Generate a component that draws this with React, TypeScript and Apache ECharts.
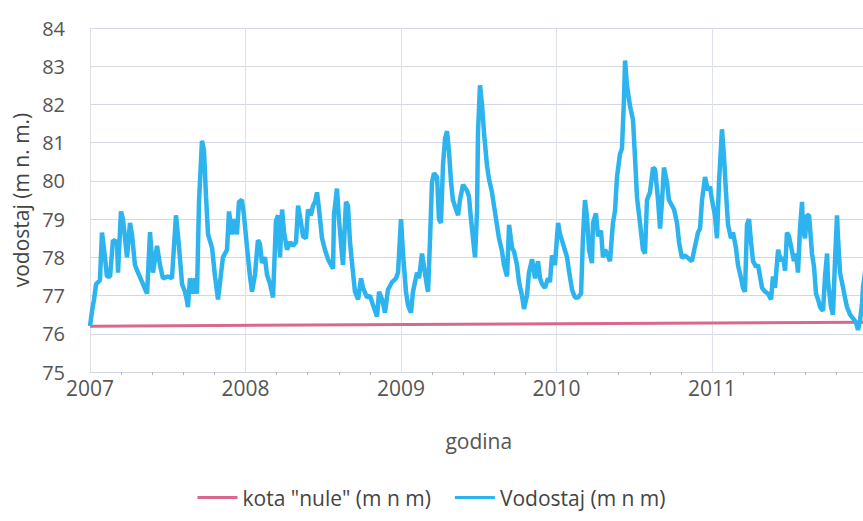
import React, { useEffect, useRef } from "react";
import * as echarts from "echarts";

const yTicks = [75, 76, 77, 78, 79, 80, 81, 82, 83, 84];
const yearTicks = [2007, 2008, 2009, 2010, 2011, 2012];

const kotaNuleName = 'kota "nule" (m n m)';
const vodostajName = "Vodostaj (m n m)";

const kotaNule: [number, number][] = [
  [2007.0, 76.2],
  [2012.0, 76.3],
];

const vodostaj: [number, number][] = [
  [2007.0, 76.2], [2007.013, 76.6], [2007.026, 76.9], [2007.039, 77.3], [2007.064, 77.4],
  [2007.077, 78.65], [2007.096, 78.0], [2007.109, 77.5], [2007.129, 77.5], [2007.148, 78.45],
  [2007.174, 78.4], [2007.18, 77.6], [2007.199, 79.2], [2007.212, 79.0], [2007.238, 78.0],
  [2007.257, 78.9], [2007.27, 78.6], [2007.289, 77.8], [2007.309, 77.6], [2007.341, 77.3],
  [2007.367, 77.05], [2007.386, 78.66], [2007.405, 77.6], [2007.431, 78.3], [2007.45, 77.8],
  [2007.469, 77.45], [2007.502, 77.5], [2007.527, 77.45], [2007.553, 79.1], [2007.572, 78.3],
  [2007.592, 77.3], [2007.611, 77.1], [2007.624, 76.85], [2007.63, 76.7], [2007.643, 77.45],
  [2007.662, 77.05], [2007.675, 77.45], [2007.688, 77.05], [2007.701, 79.45], [2007.72, 81.05],
  [2007.733, 80.8], [2007.746, 79.6], [2007.759, 78.6], [2007.785, 78.25], [2007.804, 77.5],
  [2007.823, 76.9], [2007.842, 77.55], [2007.855, 78.0], [2007.881, 78.2], [2007.894, 79.2],
  [2007.913, 78.6], [2007.926, 79.0], [2007.945, 78.6], [2007.958, 79.45], [2007.977, 79.5],
  [2007.99, 79.1], [2008.01, 78.25], [2008.029, 77.5], [2008.042, 77.1], [2008.061, 77.55],
  [2008.08, 78.45], [2008.093, 78.35], [2008.106, 77.85], [2008.125, 78.0], [2008.138, 77.55],
  [2008.158, 77.3], [2008.177, 76.95], [2008.196, 78.95], [2008.209, 79.1], [2008.222, 78.0],
  [2008.235, 79.25], [2008.248, 78.65], [2008.267, 78.2], [2008.286, 78.4], [2008.305, 78.3],
  [2008.325, 78.4], [2008.338, 79.35], [2008.357, 78.9], [2008.37, 78.55], [2008.389, 78.5],
  [2008.402, 79.25], [2008.421, 79.1], [2008.434, 79.35], [2008.447, 79.45], [2008.46, 79.7],
  [2008.473, 79.25], [2008.492, 78.5], [2008.511, 78.2], [2008.531, 77.95], [2008.55, 77.8],
  [2008.563, 77.7], [2008.569, 79.1], [2008.588, 79.8], [2008.601, 79.0], [2008.621, 78.05],
  [2008.627, 77.8], [2008.646, 79.45], [2008.659, 79.35], [2008.672, 78.4], [2008.685, 77.85],
  [2008.704, 77.1], [2008.724, 76.9], [2008.743, 77.45], [2008.756, 77.2], [2008.781, 76.95],
  [2008.801, 77.0], [2008.82, 76.75], [2008.833, 76.6], [2008.846, 76.45], [2008.859, 77.1],
  [2008.878, 76.9], [2008.897, 76.55], [2008.916, 77.15], [2008.942, 77.35], [2008.968, 77.45],
  [2008.981, 77.6], [2009.0, 79.0], [2009.013, 78.1], [2009.032, 77.1], [2009.045, 76.75],
  [2009.064, 76.55], [2009.077, 77.1], [2009.103, 77.6], [2009.116, 77.45], [2009.135, 78.1],
  [2009.148, 77.75], [2009.167, 77.25], [2009.174, 77.1], [2009.187, 78.5], [2009.199, 79.95],
  [2009.212, 80.2], [2009.232, 80.1], [2009.244, 79.0], [2009.257, 78.9], [2009.27, 80.4],
  [2009.283, 81.1], [2009.296, 81.3], [2009.309, 80.75], [2009.322, 79.95], [2009.334, 79.5],
  [2009.354, 79.25], [2009.367, 79.1], [2009.379, 79.5], [2009.399, 79.9], [2009.424, 79.75],
  [2009.437, 79.6], [2009.45, 79.0], [2009.463, 78.5], [2009.476, 78.0], [2009.489, 79.2],
  [2009.495, 81.25], [2009.508, 82.5], [2009.521, 82.0], [2009.534, 81.25], [2009.553, 80.4],
  [2009.566, 80.05], [2009.585, 79.7], [2009.598, 79.35], [2009.617, 78.85], [2009.63, 78.5],
  [2009.65, 78.15], [2009.662, 77.8], [2009.682, 77.5], [2009.695, 78.85], [2009.714, 78.25],
  [2009.727, 78.15], [2009.746, 77.8], [2009.759, 77.35], [2009.778, 77.0], [2009.791, 76.65],
  [2009.81, 77.0], [2009.823, 77.6], [2009.843, 77.95], [2009.862, 77.45], [2009.881, 77.9],
  [2009.894, 77.45], [2009.907, 77.3], [2009.926, 77.2], [2009.945, 77.45], [2009.958, 77.35],
  [2009.971, 78.05], [2009.99, 77.8], [2010.01, 78.9], [2010.023, 78.6], [2010.042, 78.35],
  [2010.068, 78.0], [2010.08, 77.65], [2010.1, 77.15], [2010.119, 76.95], [2010.138, 76.95],
  [2010.158, 77.05], [2010.17, 78.5], [2010.183, 79.5], [2010.196, 79.05], [2010.209, 78.2],
  [2010.228, 77.85], [2010.235, 78.9], [2010.254, 79.15], [2010.267, 78.55], [2010.286, 78.7],
  [2010.299, 78.0], [2010.312, 78.2], [2010.325, 78.1], [2010.344, 77.9], [2010.363, 78.9],
  [2010.376, 79.2], [2010.389, 80.1], [2010.408, 80.7], [2010.421, 80.85], [2010.434, 82.15],
  [2010.441, 83.15], [2010.453, 82.5], [2010.473, 81.95], [2010.492, 81.6], [2010.505, 80.6],
  [2010.518, 79.55], [2010.537, 78.9], [2010.556, 78.2], [2010.569, 78.1], [2010.582, 79.5],
  [2010.601, 79.7], [2010.621, 80.35], [2010.634, 80.3], [2010.646, 79.8], [2010.653, 79.5],
  [2010.666, 78.75], [2010.679, 79.5], [2010.691, 80.35], [2010.711, 79.95], [2010.723, 79.5],
  [2010.743, 79.35], [2010.756, 79.25], [2010.775, 78.9], [2010.788, 78.4], [2010.807, 77.98],
  [2010.826, 78.05], [2010.846, 77.98], [2010.871, 77.9], [2010.891, 78.3], [2010.91, 78.65],
  [2010.923, 78.75], [2010.936, 79.5], [2010.955, 80.1], [2010.974, 79.75], [2010.987, 79.85],
  [2011.0, 79.5], [2011.019, 79.1], [2011.032, 78.5], [2011.045, 79.95], [2011.064, 81.35],
  [2011.077, 80.65], [2011.09, 79.7], [2011.103, 78.85], [2011.122, 78.5], [2011.135, 78.65],
  [2011.154, 78.25], [2011.167, 77.8], [2011.187, 77.45], [2011.199, 77.2], [2011.212, 77.1],
  [2011.225, 78.85], [2011.238, 79.0], [2011.251, 78.4], [2011.264, 77.9], [2011.283, 77.75],
  [2011.296, 77.8], [2011.322, 77.2], [2011.341, 77.1], [2011.36, 77.05], [2011.38, 76.9],
  [2011.392, 77.5], [2011.405, 77.2], [2011.425, 78.2], [2011.444, 77.9], [2011.457, 78.0],
  [2011.47, 77.65], [2011.482, 78.65], [2011.495, 78.55], [2011.515, 78.15], [2011.527, 77.9],
  [2011.54, 78.1], [2011.553, 77.6], [2011.566, 78.75], [2011.579, 79.45], [2011.585, 78.75],
  [2011.598, 78.5], [2011.611, 79.1], [2011.624, 79.1], [2011.643, 78.1], [2011.656, 77.75],
  [2011.669, 77.05], [2011.682, 76.9], [2011.695, 76.7], [2011.714, 76.6], [2011.727, 77.5],
  [2011.74, 78.1], [2011.746, 77.4], [2011.765, 76.7], [2011.778, 76.5], [2011.791, 77.9],
  [2011.804, 79.1], [2011.81, 78.55], [2011.823, 77.6], [2011.843, 77.2], [2011.855, 76.95],
  [2011.868, 76.7], [2011.888, 76.5], [2011.907, 76.4], [2011.926, 76.3], [2011.939, 76.1],
  [2011.952, 76.35], [2011.965, 76.8], [2011.971, 77.2], [2011.99, 77.8],
];

const FONT = "'Open Sans', Lato, sans-serif";

export default function App() {
  const ref = useRef<HTMLDivElement>(null);

  useEffect(() => {
    if (!ref.current) return;
    const chart = echarts.init(ref.current, undefined, { renderer: "svg" });
    chart.setOption({
      animation: false,
      backgroundColor: "#ffffff",
      textStyle: { fontFamily: FONT },
      grid: {
        left: 90,
        top: 28,
        width: 777.5,
        bottom: 149,
        containLabel: false,
        outerBoundsMode: "none",
      },
      xAxis: {
        type: "value",
        min: yearTicks[0],
        max: yearTicks[yearTicks.length - 1],
        interval: 1,
        name: "godina",
        nameLocation: "middle",
        nameGap: 58,
        nameTextStyle: { fontSize: 21, color: "#555", fontFamily: FONT },
        axisLine: { show: true, lineStyle: { color: "#d0d4de", width: 1 } },
        axisTick: { show: false },
        minorTick: { show: true, splitNumber: 5, length: 3, lineStyle: { color: "#b0b4c0" } },
        axisLabel: {
          fontSize: 21,
          color: "#555",
          margin: 5,
          showMaxLabel: false,
          formatter: (v: number) => String(Math.round(v)),
        },
        splitLine: { show: true, lineStyle: { color: "#dde1ea", width: 1 } },
      },
      yAxis: {
        type: "value",
        min: yTicks[0],
        max: yTicks[yTicks.length - 1],
        interval: 1,
        name: "vodostaj (m n. m.)",
        nameLocation: "middle",
        nameGap: 57,
        nameTextStyle: { fontSize: 21, color: "#444", fontFamily: FONT },
        axisLine: { show: false },
        axisTick: { show: false },
        axisLabel: { fontSize: 20, color: "#555", margin: 25 },
        splitLine: { show: true, lineStyle: { color: "#d4d8e6", width: 1 } },
      },
      legend: {
        bottom: 8,
        left: "center",
        itemWidth: 40,
        itemHeight: 3,
        itemGap: 24,
        icon: "rect",
        textStyle: { fontSize: 21, color: "#444", fontFamily: FONT },
        data: [kotaNuleName, vodostajName],
      },
      series: [
        {
          name: kotaNuleName,
          type: "line",
          data: kotaNule,
          showSymbol: false,
          symbol: "none",
          lineStyle: { color: "#d9688e", width: 3 },
          itemStyle: { color: "#d9688e" },
          z: 2,
        },
        {
          name: vodostajName,
          type: "line",
          data: vodostaj,
          showSymbol: false,
          symbol: "none",
          lineStyle: { color: "#2db4ee", width: 4.5 },
          itemStyle: { color: "#2db4ee" },
          z: 3,
        },
      ],
    });
    return () => {
      chart.dispose();
    };
  }, []);

  return (
    <div
      ref={ref}
      style={{ position: "fixed", left: 0, top: 0, width: 863, height: 521 }}
    />
  );
}
